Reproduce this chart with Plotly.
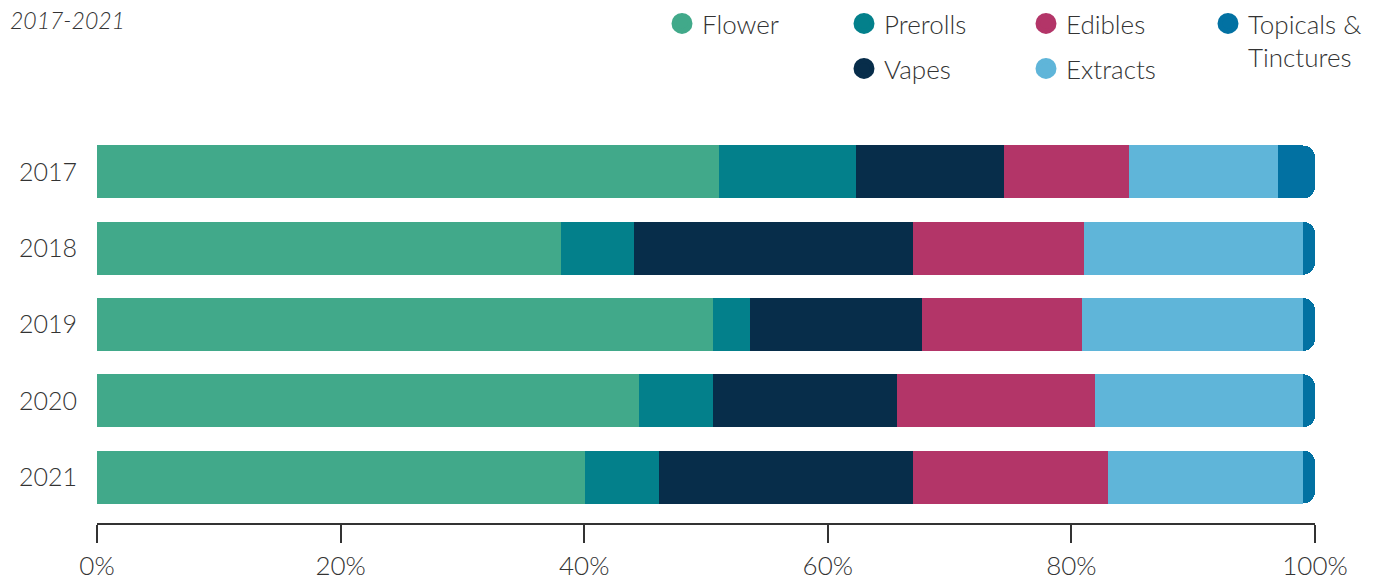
import plotly.graph_objects as go

years = ["2017", "2018", "2019", "2020", "2021"]
flower = [51.1, 38.1, 50.6, 44.5, 40.1]
prerolls = [11.2, 6.0, 3.0, 6.1, 6.0]
vapes = [12.2, 22.9, 14.1, 15.1, 20.9]
edibles = [10.2, 14.0, 13.2, 16.2, 16.0]
extracts = [12.3, 18.0, 18.1, 17.1, 16.0]
topicals = [3.0, 1.0, 1.0, 1.0, 1.0]
x_ticks = [0, 20, 40, 60, 80, 100]
x_tick_text = [f"{v}%" for v in x_ticks]

series = [
    ("Flower", flower, "#41A98A", "legend", 1),
    ("Prerolls", prerolls, "#03808B", "legend", 2),
    ("Vapes", vapes, "#072D4A", "legend2", 1),
    ("Edibles", edibles, "#B33568", "legend", 3),
    ("Extracts", extracts, "#5FB5D9", "legend2", 2),
    ("Topicals &<br>Tinctures", topicals, "#0271A2", "legend", 4),
]

FONT = "Lato"
TXT = "#333333"

fig = go.Figure()
for name, vals, color, leg, rank in series:
    fig.add_trace(go.Bar(
        y=years, x=vals, orientation="h", name=name,
        marker=dict(color=color, line=dict(width=0)),
        showlegend=False, hoverinfo="x+name",
    ))
for name, vals, color, leg, rank in series:
    fig.add_trace(go.Scatter(
        x=[None], y=[None], mode="markers", name=name,
        marker=dict(color=color, size=16, symbol="circle",
                    line=dict(color=color, width=5)),
        legend=leg, legendrank=rank, showlegend=True,
    ))

legend_common = dict(
    orientation="h", xref="container", yref="container",
    xanchor="left", yanchor="top",
    font=dict(family=FONT, size=26, color=TXT, weight=300),
    entrywidth=137, entrywidthmode="pixels",
    bgcolor="rgba(0,0,0,0)", valign="top", traceorder="normal",
    itemclick=False,
)

fig.update_layout(
    width=1377, height=581,
    barmode="stack", bargap=0.305, barcornerradius=12,
    plot_bgcolor="white", paper_bgcolor="white",
    margin=dict(l=97, r=62, t=134, b=58, autoexpand=False),
    font=dict(family=FONT, size=26, color=TXT, weight=300),
    legend=dict(x=662 / 1377, y=1.0, **legend_common),
    legend2=dict(x=(662 + 182) / 1377, y=1 - 45 / 581, **legend_common),
    xaxis=dict(
        range=[0, 100], tickmode="array", tickvals=x_ticks, ticktext=x_tick_text,
        showgrid=False, zeroline=False, automargin=False,
        showline=True, linecolor="#333333", linewidth=1.5,
        ticks="outside", ticklen=18, tickwidth=1.5, tickcolor="#333333",
        ticklabelstandoff=1,
        tickfont=dict(family=FONT, size=26, color=TXT, weight=300),
    ),
    yaxis=dict(
        type="category", categoryorder="array", categoryarray=years,
        range=[4.603, -0.498], showgrid=False, zeroline=False,
        showline=False, ticks="", ticklabelstandoff=19, automargin=False,
        tickfont=dict(family=FONT, size=25, color=TXT, weight=300),
    ),
    annotations=[dict(
        text="<i>2017-2021</i>", xref="paper", yref="paper",
        x=-89 / 1218, y=1 + (134 - 20) / 389, xanchor="left", yanchor="middle",
        showarrow=False, font=dict(family=FONT, size=23, color=TXT, weight=300),
    )],
)

fig.write_html("out.html", config={"displayModeBar": False},
               post_script="document.body.style.margin='0';")
